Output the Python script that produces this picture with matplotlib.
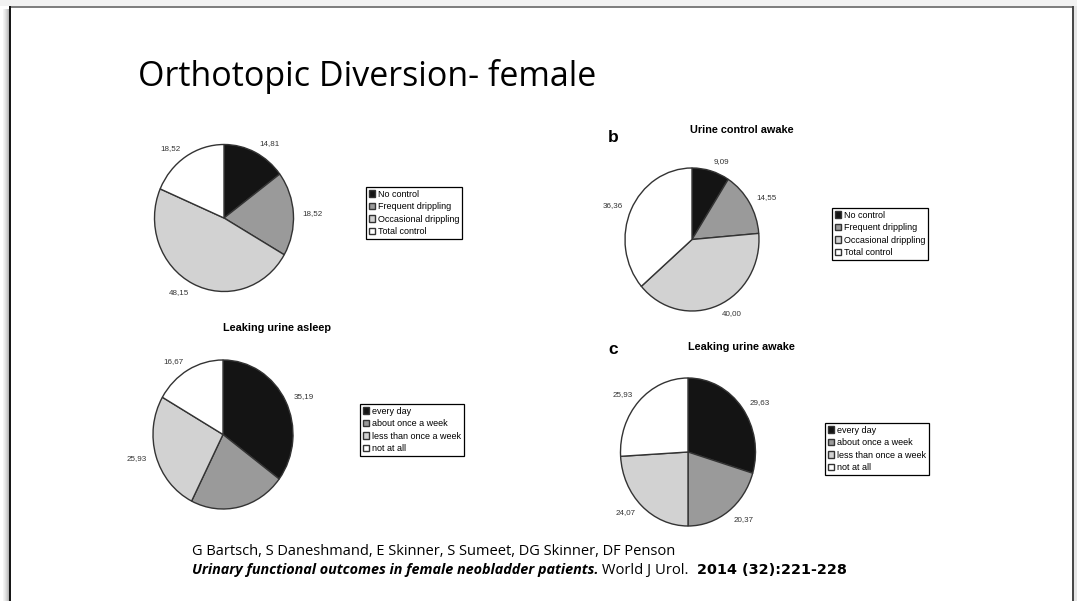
import matplotlib.pyplot as plt
from matplotlib.patches import Rectangle

# Data
control_labels = ["No control", "Frequent drippling", "Occasional drippling", "Total control"]
leak_labels = ["every day", "about once a week", "less than once a week", "not at all"]

control_asleep = [14.81, 18.52, 48.15, 18.52]
control_awake = [9.09, 14.55, 40.00, 36.36]
leaking_asleep = [35.19, 22.22, 25.93, 16.67]
leaking_awake = [29.63, 20.37, 24.07, 25.93]

slice_colors = ["#141414", "#9a9a9a", "#d2d2d2", "#ffffff"]

W, H = 1077, 601
CHART_FONT = "Liberation Sans"
SLIDE_FONT = "Open Sans"

fig = plt.figure(figsize=(W / 100, H / 100), dpi=100)
fig.patch.set_facecolor("white")


def fx(x):
    return x / W


def fy(y):
    return 1 - y / H


def draw_pie(values, names, cx, cy, rx, ry, legend_at, clip_y=None, clip_labels=True):
    ext = 1.6
    x0, x1 = cx - rx * ext, cx + rx * ext
    y0, y1 = cy - ry * ext, cy + ry * ext
    if clip_y is not None:
        y1 = min(y1, clip_y)
    ax = fig.add_axes([fx(x0), fy(y1), (x1 - x0) / W, (y1 - y0) / H])
    wedges, texts = ax.pie(
        values,
        labels=[f"{v:.2f}".replace(".", ",") for v in values],
        colors=slice_colors,
        startangle=90,
        counterclock=False,
        labeldistance=1.13,
        wedgeprops=dict(edgecolor="#333333", linewidth=1.0),
        textprops=dict(fontsize=5.8, color="#333333", family=CHART_FONT),
    )
    ax.set_aspect("auto")
    ax.set_xlim(-ext, ext)
    ax.set_ylim(-(y1 - cy) / ry, ext)
    for t in texts:
        if clip_labels:
            t.set_clip_box(ax.bbox)
            t.set_clip_on(True)
        else:
            t.set_clip_on(False)
    leg = fig.legend(
        wedges, names,
        loc="upper left",
        bbox_to_anchor=(fx(legend_at[0]), fy(legend_at[1])),
        borderaxespad=0,
        prop=dict(family=CHART_FONT, size=6.5),
        frameon=True, fancybox=False, framealpha=1,
        edgecolor="black",
        borderpad=0.3, labelspacing=0.38,
        handlelength=0.75, handleheight=0.75, handletextpad=0.3,
    )
    leg.get_frame().set_linewidth(0.9)
    return ax


draw_pie(control_asleep, control_labels, 224, 218, 69.5, 73.5, (366, 187))
draw_pie(control_awake, control_labels, 692, 239.5, 67, 71.5, (832, 208))
draw_pie(leaking_asleep, leak_labels, 223, 434.5, 70, 74.5, (360, 404), clip_y=514)
draw_pie(leaking_awake, leak_labels, 688, 452, 67.5, 74, (825, 423), clip_y=520,
         clip_labels=False)

# panel headings
bold = dict(family=CHART_FONT, weight="bold", ha="center", va="center")
fig.text(fx(742), fy(130), "Urine control awake", fontsize=7.8, **bold)
fig.text(fx(277), fy(328), "Leaking urine asleep", fontsize=7.8, **bold)
fig.text(fx(741), fy(347), "Leaking urine awake", fontsize=7.8, **bold)
fig.text(fx(613), fy(137), "b", fontsize=12.5, **bold)
fig.text(fx(613), fy(350), "c", fontsize=12.5, **bold)

# slide title and citation
fig.text(fx(138), fy(86), "Orthotopic Diversion- female", fontsize=24.5,
         family=SLIDE_FONT, va="baseline", ha="left")
fig.text(fx(192), fy(555), "G Bartsch, S Daneshmand, E Skinner, S Sumeet, DG Skinner, DF Penson",
         fontsize=10.5, family=SLIDE_FONT, va="baseline", ha="left")

bg = fig.add_axes([0, 0, 1, 1], zorder=-5)
bg.set_xlim(0, W)
bg.set_ylim(H, 0)
bg.axis("off")

# second citation line: three runs of text sharing one baseline
renderer = fig.canvas.get_renderer()
runs = [
    ("Urinary functional outcomes in female neobladder patients.",
     dict(family=SLIDE_FONT, style="italic", weight="bold", fontsize=10.4)),
    (" World J Urol.  ", dict(family=SLIDE_FONT, fontsize=10.6)),
    ("2014 (32):221-228", dict(family="DejaVu Sans", weight="semibold", fontsize=10.4)),
]
x = 192
for s, props in runs:
    t = bg.text(x, 574, s, va="baseline", ha="left", **props)
    bb = t.get_window_extent(renderer)
    x = bg.transData.inverted().transform((bb.x1, bb.y0))[0]

# slide frame with a soft shadow on the left
bg.add_patch(Rectangle((0, 0), W, 6, facecolor="#f2f2f2", edgecolor="none"))
for i, c in enumerate(["#f4f4f4", "#ececec", "#e2e2e2", "#d6d6d6", "#c8c8c8", "#b8b8b8"]):
    bg.add_patch(Rectangle((3 + i, 9), 1, H, facecolor=c, edgecolor="none"))
bg.add_patch(Rectangle((1074, 6), 3, H, facecolor="#e6e6e6", edgecolor="none"))
bg.plot([10, 1073], [7, 7], color="#666666", lw=1.2)
bg.plot([10, 10], [7, H], color="#111111", lw=1.4)
bg.plot([1073, 1073], [7, H], color="#444444", lw=1.4)

fig.savefig("out.png", dpi=100)
